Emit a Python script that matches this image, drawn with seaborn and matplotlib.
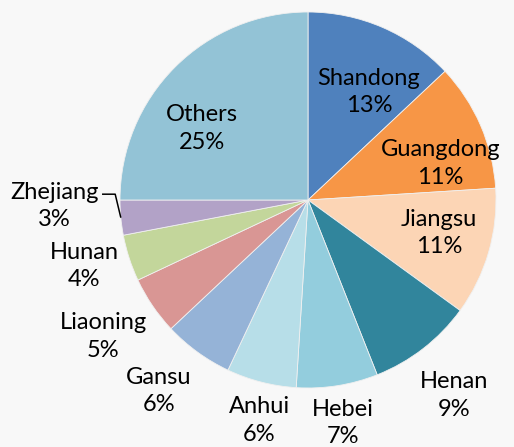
import numpy as np
import matplotlib.pyplot as plt
import seaborn as sns

provinces = ['Shandong', 'Guangdong', 'Jiangsu', 'Henan', 'Hebei', 'Anhui',
             'Gansu', 'Liaoning', 'Hunan', 'Zhejiang', 'Others']
shares = [13, 11, 11, 9, 7, 6, 6, 5, 4, 3, 25]
colors = ['#4F81BD', '#F79646', '#FCD5B5', '#31859C', '#93CDDD', '#B7DEE8',
          '#95B3D7', '#D99694', '#C3D69B', '#B2A2C7', '#93C3D6']

# label placement (radius in pie units, angle nudge in degrees)
label_dist = [0.66, 0.73, 0.72, 1.30, 1.20, 1.20, 1.29, 1.31, 1.24, 1.35, 0.68]
label_nudge = [-6, -8, 2, -1, 0, 2, -2, -0.5, -1.5, -4, 11]

sns.set_style('white')
plt.rcParams['font.family'] = ['Lato', 'DejaVu Sans']

fig = plt.figure(figsize=(5.14, 4.47), dpi=100)
fig.patch.set_facecolor('#F8F8F8')
ax = fig.add_axes([0, 0, 1, 1])
ax.set_facecolor('#F8F8F8')

wedges, _ = ax.pie(shares, colors=colors, startangle=90, counterclock=False,
                   radius=1.0, wedgeprops=dict(linewidth=0.6, edgecolor='#F0F0F0'))

for w, name, val, d, nudge in zip(wedges, provinces, shares, label_dist, label_nudge):
    mid = np.deg2rad((w.theta1 + w.theta2) / 2 + nudge)
    x, y = d * np.cos(mid), d * np.sin(mid)
    ax.text(x, y, f'{name}\n{val}%', ha='center', va='center', fontsize=17,
            linespacing=1.38, color='black')

# leader line for Zhejiang
zw = wedges[provinces.index('Zhejiang')]
zmid = np.deg2rad((zw.theta1 + zw.theta2) / 2)
ex, ey = np.cos(zmid), np.sin(zmid)
ax.plot([ex, ex - 0.03, ex - 0.10], [ey, ey + 0.125, ey + 0.125],
        color='black', lw=1.1, solid_capstyle='butt')

ax.set_xlim(-308 / 188, 206 / 188)
ax.set_ylim(-247 / 188, 200 / 188)
ax.set_aspect('auto')
ax.axis('off')

fig.savefig('out.png', dpi=100, facecolor=fig.get_facecolor())
